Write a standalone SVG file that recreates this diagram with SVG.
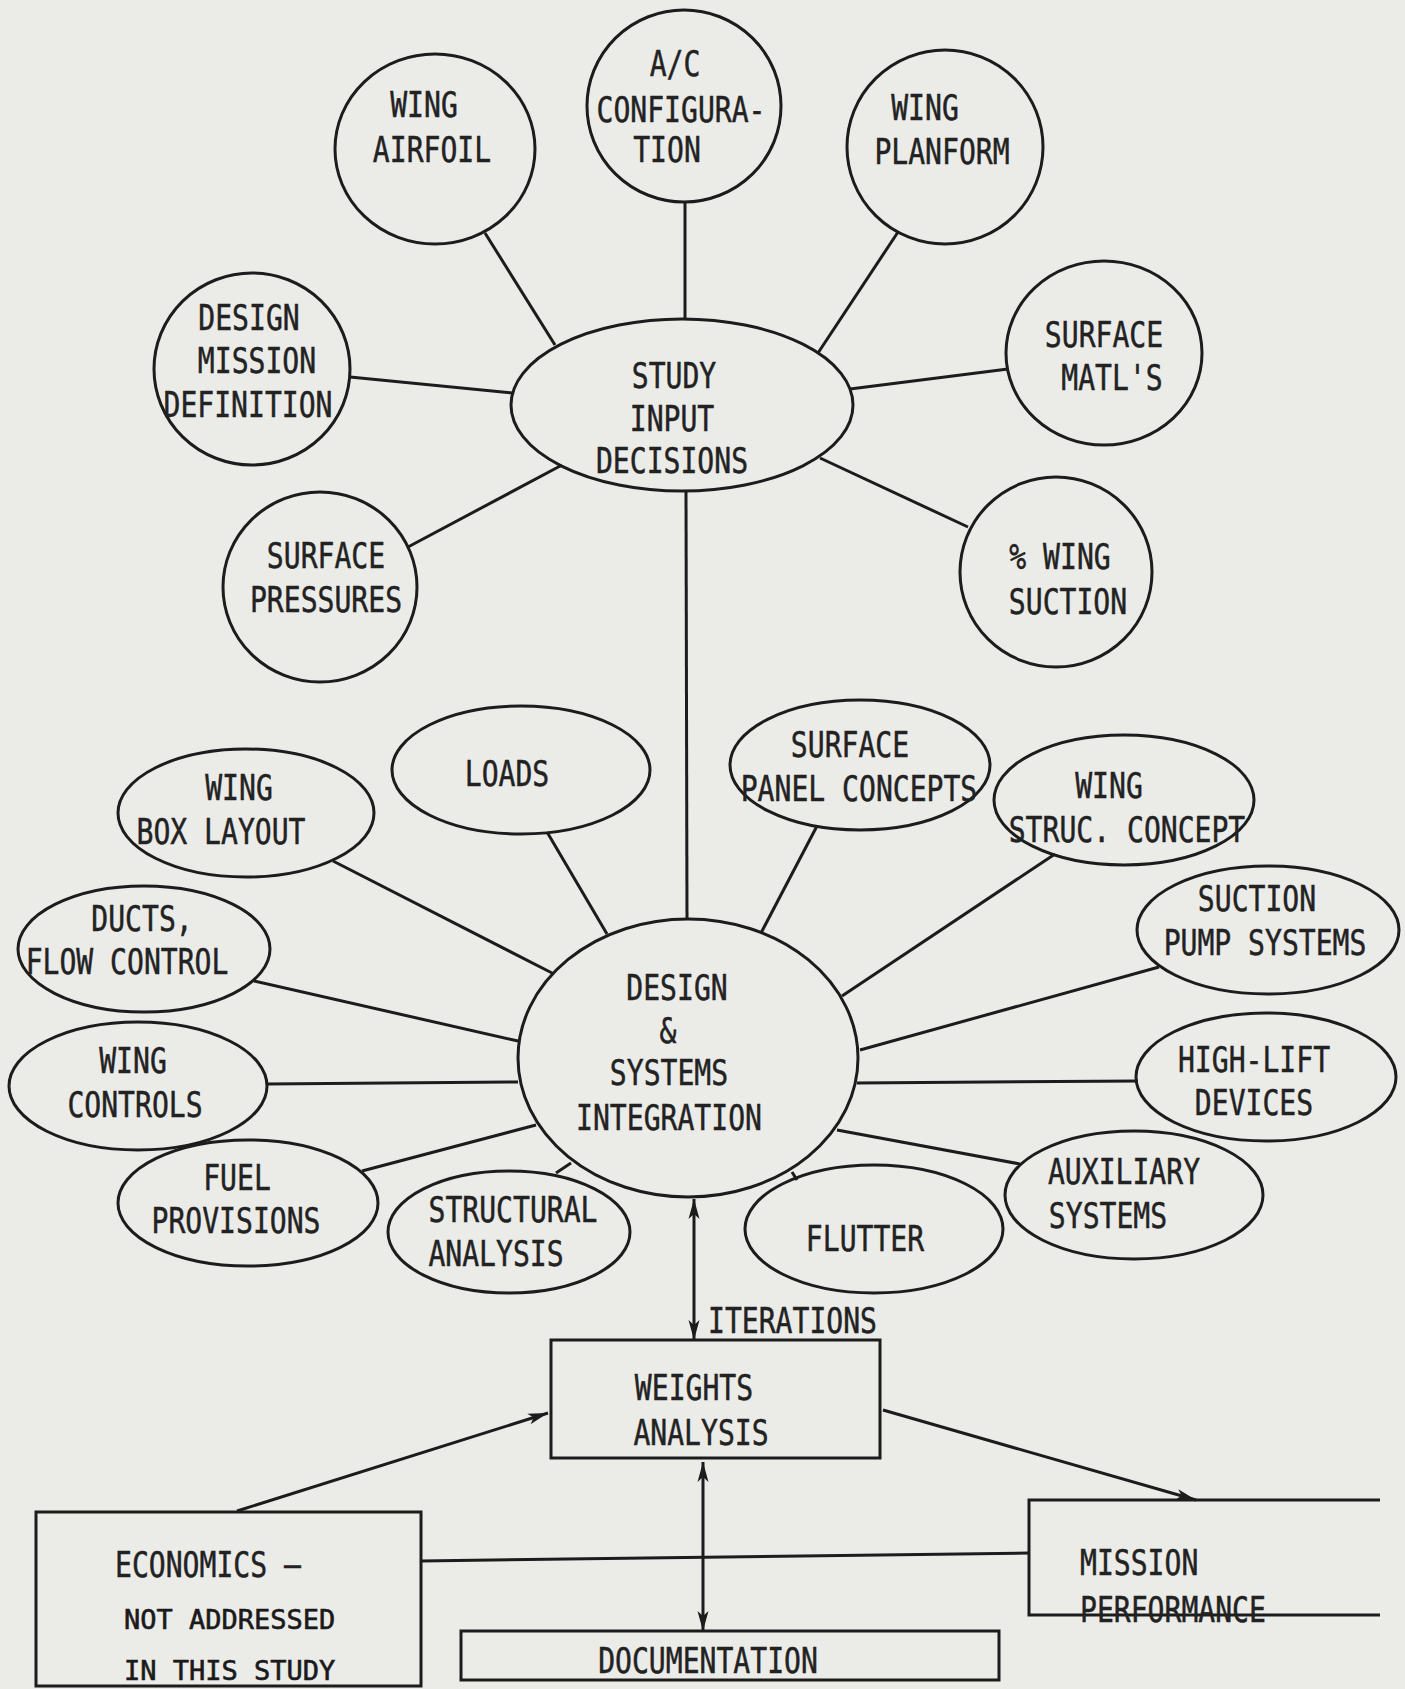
<svg xmlns="http://www.w3.org/2000/svg" width="1405" height="1689" viewBox="0 0 1405 1689">
<style>
  .bg { fill: #ebebe8; }
  .n { fill: none; stroke: #1c1c1c; stroke-width: 3; }
  .c line, .c path { stroke: #1c1c1c; stroke-width: 3; fill: none; }
  .t { font-family: "DejaVu Sans Mono", "Liberation Mono", monospace; font-size: 36px; fill: #222; stroke: #222; stroke-width: 0.5; text-anchor: middle; }
  .ts { font-family: "DejaVu Sans Mono", "Liberation Mono", monospace; font-size: 27px; fill: #1a1a1a; stroke: #1a1a1a; stroke-width: 0.6; }
</style>
<defs>
  <marker id="ah" markerUnits="userSpaceOnUse" markerWidth="22" markerHeight="14" refX="20" refY="7" orient="auto-start-reverse">
    <path d="M0,1.5 L20,7 L0,12.5 L5,7 Z" fill="#1c1c1c"/>
  </marker>
</defs>
<rect class="bg" x="0" y="0" width="1405" height="1689"/>

<g id="connectors" class="c">
  <line x1="485" y1="233" x2="555" y2="345"/>
  <line x1="685" y1="201" x2="685" y2="319"/>
  <line x1="898" y1="232" x2="818" y2="353"/>
  <line x1="350" y1="377" x2="512" y2="393"/>
  <line x1="1008" y1="369" x2="850" y2="389"/>
  <line x1="408" y1="547" x2="562" y2="465"/>
  <line x1="968" y1="527" x2="820" y2="458"/>
  <line x1="686" y1="490" x2="687" y2="920"/>
  <line x1="333" y1="861" x2="554" y2="974"/>
  <line x1="547" y1="832" x2="607" y2="934"/>
  <line x1="817" y1="826" x2="761" y2="933"/>
  <line x1="1055" y1="854" x2="842" y2="996"/>
  <line x1="254" y1="981" x2="518" y2="1041"/>
  <line x1="1159" y1="967" x2="860" y2="1050"/>
  <line x1="267" y1="1084" x2="518" y2="1082"/>
  <line x1="1138" y1="1081" x2="857" y2="1083"/>
  <line x1="362" y1="1171" x2="536" y2="1125"/>
  <line x1="556" y1="1173" x2="571" y2="1163"/>
  <line x1="1020" y1="1164" x2="837" y2="1130"/>
  <line x1="797" y1="1180" x2="792" y2="1172"/>
  <line x1="694" y1="1199" x2="694" y2="1340" marker-start="url(#ah)" marker-end="url(#ah)"/>
  <line x1="237" y1="1511" x2="548" y2="1413" marker-end="url(#ah)"/>
  <line x1="883" y1="1410" x2="1196" y2="1500" marker-end="url(#ah)"/>
  <line x1="703" y1="1462" x2="703" y2="1631" marker-start="url(#ah)" marker-end="url(#ah)"/>
  <line x1="421" y1="1561" x2="1029" y2="1553"/>
</g>

<g id="wing-airfoil">
  <ellipse class="n" cx="435" cy="149" rx="100" ry="95"/>
  <text class="t" transform="translate(424,0) scale(0.78,1)"><tspan x="0" y="117">WING</tspan></text>
  <text class="t" transform="translate(432,0) scale(0.78,1)"><tspan x="0" y="162">AIRFOIL</tspan></text>
</g>
<g id="ac-configuration">
  <ellipse class="n" cx="684" cy="106" rx="97" ry="96"/>
  <text class="t" transform="translate(675,0) scale(0.78,1)"><tspan x="0" y="76">A/C</tspan></text>
  <text class="t" transform="translate(681,0) scale(0.78,1)"><tspan x="0" y="122">CONFIGURA-</tspan></text>
  <text class="t" transform="translate(667,0) scale(0.78,1)"><tspan x="0" y="162">TION</tspan></text>
</g>
<g id="wing-planform">
  <ellipse class="n" cx="945" cy="147" rx="98" ry="97"/>
  <text class="t" transform="translate(925,0) scale(0.78,1)"><tspan x="0" y="120">WING</tspan></text>
  <text class="t" transform="translate(942,0) scale(0.78,1)"><tspan x="0" y="164">PLANFORM</tspan></text>
</g>
<g id="design-mission">
  <ellipse class="n" cx="252" cy="369" rx="98" ry="96"/>
  <text class="t" transform="translate(249,0) scale(0.78,1)"><tspan x="0" y="330">DESIGN</tspan></text>
  <text class="t" transform="translate(257,0) scale(0.78,1)"><tspan x="0" y="373">MISSION</tspan></text>
  <text class="t" transform="translate(248,0) scale(0.78,1)"><tspan x="0" y="417">DEFINITION</tspan></text>
</g>
<g id="study-input">
  <ellipse class="n" cx="682" cy="405" rx="171" ry="86"/>
  <text class="t" transform="translate(674,0) scale(0.78,1)"><tspan x="0" y="388">STUDY</tspan></text>
  <text class="t" transform="translate(672,0) scale(0.78,1)"><tspan x="0" y="431">INPUT</tspan></text>
  <text class="t" transform="translate(672,0) scale(0.78,1)"><tspan x="0" y="473">DECISIONS</tspan></text>
</g>
<g id="surface-matls">
  <ellipse class="n" cx="1104" cy="353" rx="98" ry="92"/>
  <text class="t" transform="translate(1104,0) scale(0.78,1)"><tspan x="0" y="347">SURFACE</tspan></text>
  <text class="t" transform="translate(1112,0) scale(0.78,1)"><tspan x="0" y="390">MATL'S</tspan></text>
</g>
<g id="surface-pressures">
  <ellipse class="n" cx="320" cy="587" rx="97" ry="95"/>
  <text class="t" transform="translate(326,0) scale(0.78,1)"><tspan x="0" y="568">SURFACE</tspan></text>
  <text class="t" transform="translate(326,0) scale(0.78,1)"><tspan x="0" y="612">PRESSURES</tspan></text>
</g>
<g id="wing-suction">
  <ellipse class="n" cx="1056" cy="572" rx="96" ry="95"/>
  <text class="t" transform="translate(1060,0) scale(0.78,1)"><tspan x="0" y="569">% WING</tspan></text>
  <text class="t" transform="translate(1068,0) scale(0.78,1)"><tspan x="0" y="614">SUCTION</tspan></text>
</g>

<g id="design-systems">
  <ellipse class="n" cx="688" cy="1058" rx="170" ry="139"/>
  <text class="t" transform="translate(677,0) scale(0.78,1)"><tspan x="0" y="1000">DESIGN</tspan></text>
  <text class="t" transform="translate(668,0) scale(0.78,1)"><tspan x="0" y="1043">&amp;</tspan></text>
  <text class="t" transform="translate(669,0) scale(0.78,1)"><tspan x="0" y="1085">SYSTEMS</tspan></text>
  <text class="t" transform="translate(669,0) scale(0.78,1)"><tspan x="0" y="1130">INTEGRATION</tspan></text>
</g>
<g id="wing-box-layout">
  <ellipse class="n" cx="246" cy="813" rx="128" ry="64"/>
  <text class="t" transform="translate(239,0) scale(0.78,1)"><tspan x="0" y="800">WING</tspan></text>
  <text class="t" transform="translate(221,0) scale(0.78,1)"><tspan x="0" y="844">BOX LAYOUT</tspan></text>
</g>
<g id="loads">
  <ellipse class="n" cx="521" cy="770" rx="129" ry="64"/>
  <text class="t" transform="translate(507,0) scale(0.78,1)"><tspan x="0" y="786">LOADS</tspan></text>
</g>
<g id="surface-panel">
  <ellipse class="n" cx="860" cy="765" rx="130" ry="65"/>
  <text class="t" transform="translate(850,0) scale(0.78,1)"><tspan x="0" y="757">SURFACE</tspan></text>
  <text class="t" transform="translate(859,0) scale(0.78,1)"><tspan x="0" y="801">PANEL CONCEPTS</tspan></text>
</g>
<g id="wing-struc">
  <ellipse class="n" cx="1124" cy="800" rx="130" ry="65"/>
  <text class="t" transform="translate(1109,0) scale(0.78,1)"><tspan x="0" y="798">WING</tspan></text>
  <text class="t" transform="translate(1127,0) scale(0.78,1)"><tspan x="0" y="842">STRUC. CONCEPT</tspan></text>
</g>
<g id="ducts">
  <ellipse class="n" cx="144" cy="949" rx="126" ry="63"/>
  <text class="t" transform="translate(142,0) scale(0.78,1)"><tspan x="0" y="931">DUCTS,</tspan></text>
  <text class="t" transform="translate(127,0) scale(0.78,1)"><tspan x="0" y="974">FLOW CONTROL</tspan></text>
</g>
<g id="suction-pump">
  <ellipse class="n" cx="1268" cy="930" rx="131" ry="64"/>
  <text class="t" transform="translate(1257,0) scale(0.78,1)"><tspan x="0" y="911">SUCTION</tspan></text>
  <text class="t" transform="translate(1265,0) scale(0.78,1)"><tspan x="0" y="955">PUMP SYSTEMS</tspan></text>
</g>
<g id="wing-controls">
  <ellipse class="n" cx="138" cy="1086" rx="129" ry="64"/>
  <text class="t" transform="translate(133,0) scale(0.78,1)"><tspan x="0" y="1073">WING</tspan></text>
  <text class="t" transform="translate(135,0) scale(0.78,1)"><tspan x="0" y="1117">CONTROLS</tspan></text>
</g>
<g id="high-lift">
  <ellipse class="n" cx="1266" cy="1077" rx="130" ry="64"/>
  <text class="t" transform="translate(1254,0) scale(0.78,1)"><tspan x="0" y="1072">HIGH-LIFT</tspan></text>
  <text class="t" transform="translate(1254,0) scale(0.78,1)"><tspan x="0" y="1115">DEVICES</tspan></text>
</g>
<g id="fuel-provisions">
  <ellipse class="n" cx="248" cy="1203" rx="130" ry="63"/>
  <text class="t" transform="translate(237,0) scale(0.78,1)"><tspan x="0" y="1190">FUEL</tspan></text>
  <text class="t" transform="translate(236,0) scale(0.78,1)"><tspan x="0" y="1233">PROVISIONS</tspan></text>
</g>
<g id="structural-analysis">
  <ellipse class="n" cx="509" cy="1232" rx="121" ry="61"/>
  <text class="t" transform="translate(513,0) scale(0.78,1)"><tspan x="0" y="1222">STRUCTURAL</tspan></text>
  <text class="t" transform="translate(496,0) scale(0.78,1)"><tspan x="0" y="1266">ANALYSIS</tspan></text>
</g>
<g id="flutter">
  <ellipse class="n" cx="874" cy="1229" rx="129" ry="64"/>
  <text class="t" transform="translate(865,0) scale(0.78,1)"><tspan x="0" y="1251">FLUTTER</tspan></text>
</g>
<g id="auxiliary">
  <ellipse class="n" cx="1134" cy="1195" rx="129" ry="64"/>
  <text class="t" transform="translate(1124,0) scale(0.78,1)"><tspan x="0" y="1184">AUXILIARY</tspan></text>
  <text class="t" transform="translate(1108,0) scale(0.78,1)"><tspan x="0" y="1228">SYSTEMS</tspan></text>
</g>

<g id="iterations-label">
  <text class="t" style="text-anchor:start" transform="translate(708,0) scale(0.78,1)"><tspan x="0" y="1333">ITERATIONS</tspan></text>
</g>
<g id="weights-analysis">
  <rect class="n" x="551" y="1340" width="329" height="118"/>
  <text class="t" transform="translate(694,0) scale(0.78,1)"><tspan x="0" y="1400">WEIGHTS</tspan></text>
  <text class="t" transform="translate(701,0) scale(0.78,1)"><tspan x="0" y="1445">ANALYSIS</tspan></text>
</g>
<g id="economics">
  <rect class="n" x="36" y="1512" width="385" height="174"/>
  <text class="t" style="text-anchor:start" transform="translate(115,0) scale(0.78,1)"><tspan x="0" y="1577">ECONOMICS —</tspan></text>
  <text class="ts" x="124" y="1629">NOT ADDRESSED</text>
  <text class="ts" x="124" y="1680">IN THIS STUDY</text>
</g>
<g id="mission-performance">
  <path class="n" d="M1380,1500 H1029 V1615 H1380"/>
  <text class="t" style="text-anchor:start" transform="translate(1080,0) scale(0.78,1)"><tspan x="0" y="1575">MISSION</tspan></text>
  <text class="t" style="text-anchor:start" transform="translate(1080,0) scale(0.78,1)"><tspan x="0" y="1622">PERFORMANCE</tspan></text>
</g>
<g id="documentation">
  <rect class="n" x="461" y="1631" width="538" height="49"/>
  <text class="t" transform="translate(708,0) scale(0.78,1)"><tspan x="0" y="1673">DOCUMENTATION</tspan></text>
</g>
</svg>
